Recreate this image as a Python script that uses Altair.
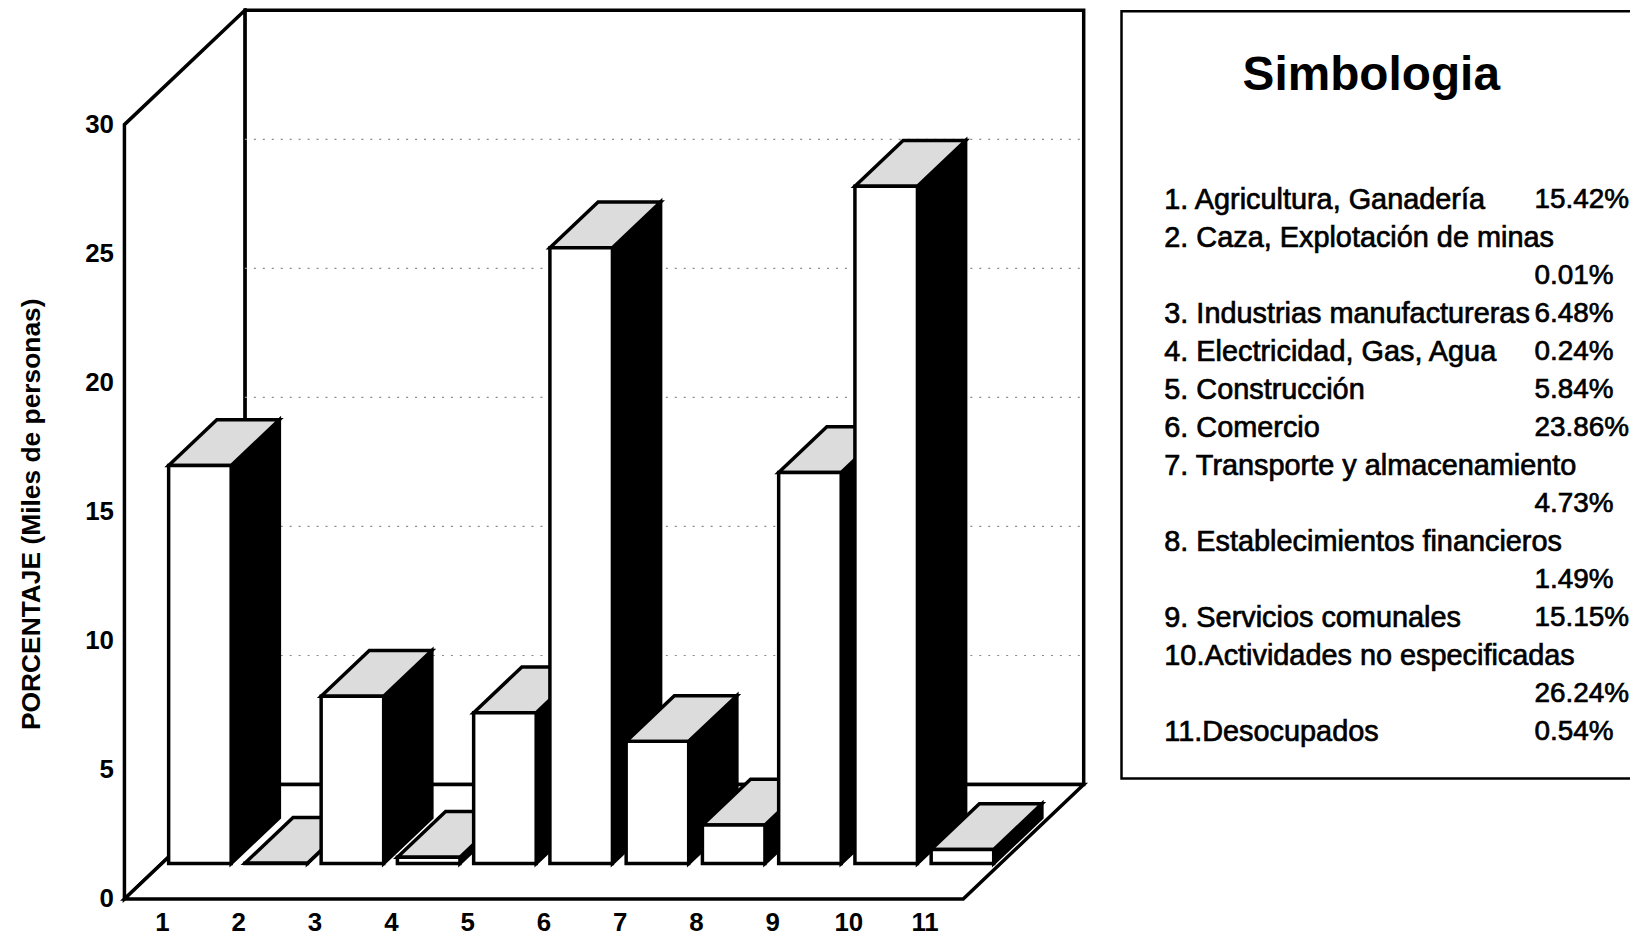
import altair as alt
import pandas as pd

# ---------------- data ----------------
categories = ["1", "2", "3", "4", "5", "6", "7", "8", "9", "10", "11"]
values = [15.42, 0.01, 6.48, 0.24, 5.84, 23.86, 4.73, 1.49, 15.15, 26.24, 0.54]
legend_names = [
    "1. Agricultura, Ganadería",
    "2. Caza, Explotación de minas",
    "3. Industrias manufactureras",
    "4. Electricidad, Gas, Agua",
    "5. Construcción",
    "6. Comercio",
    "7. Transporte y almacenamiento",
    "8. Establecimientos financieros",
    "9. Servicios comunales",
    "10.Actividades no especificadas",
    "11.Desocupados",
]
pct_on_next_line = [False, True, False, False, False, False, True, True, False, True, False]
y_ticks = [0, 5, 10, 15, 20, 25, 30]
legend_title = "Simbologia"
y_title = "PORCENTAJE (Miles de personas)"

# ---------------- oblique 3-D projection settings ----------------
N = len(categories)
YMAX = 30
DX = 1.58      # depth shift expressed in category units
DY = 4.43      # depth shift expressed in value units
Z0, Z1 = 0.31, 0.71   # bar depth range (fraction of floor depth)
PAD = 0.09     # gap on each side of a bar inside its category band
W, H = 964, 893
FONT = "Liberation Sans"

xs = alt.Scale(domain=[0, N + DX], nice=False, zero=False)
ys = alt.Scale(domain=[0, YMAX + DY], nice=False, zero=False)

# walls and floor
back_wall = pd.DataFrame({"x": [DX], "x2": [N + DX], "y": [DY], "y2": [YMAX + DY]})
left_wall = pd.DataFrame({"x": [0, DX], "y": [0, DY], "y2": [YMAX, YMAX + DY], "id": [0, 0]})
floor = pd.DataFrame({"y": [0, DY], "x": [0, DX], "x2": [N, N + DX], "id": [0, 0]})
grid = pd.DataFrame({"y": [t + DY for t in y_ticks[1:-1]]})
grid["x"] = DX
grid["x2"] = N + DX

fronts, tops, sides = [], [], []
for i, h in enumerate(values):
    cl, cr = i + PAD, i + 1 - PAD
    fronts.append({"id": i, "x": cl + Z0 * DX, "x2": cr + Z0 * DX, "y": Z0 * DY, "y2": h + Z0 * DY})
    for z in (Z0, Z1):
        tops.append({"id": i, "y": h + z * DY, "x": cl + z * DX, "x2": cr + z * DX})
        sides.append({"id": i, "x": cr + z * DX, "y": z * DY, "y2": h + z * DY})
fronts = pd.DataFrame(fronts)
tops = pd.DataFrame(tops)
sides = pd.DataFrame(sides)

xlab = pd.DataFrame({"label": categories, "c": [i + 0.5 for i in range(N)], "v": [0] * N})

yaxis = alt.Axis(
    values=y_ticks, title=y_title, grid=False, domain=False, ticks=False, tickSize=0,
    labelFont=FONT, labelFontSize=26, labelFontWeight="bold", labelColor="black",
    labelPadding=11, labelFlush=False, labelOverlap=False,
    titleFont=FONT, titleFontSize=26.5, titleFontWeight="bold", titleColor="black",
    titleAngle=270, titleX=-93, titleY=506, titleAlign="center", titleBaseline="middle",
)

stroke = dict(stroke="black", strokeWidth=3.5, strokeJoin="miter")

back = alt.Chart(back_wall).mark_rect(fill="white", **stroke).encode(
    x=alt.X("x:Q", scale=xs, axis=None), x2="x2:Q",
    y=alt.Y("y:Q", scale=ys, axis=yaxis), y2="y2:Q",
)
left = alt.Chart(left_wall).mark_area(fill="white", orient="vertical", **stroke).encode(
    x=alt.X("x:Q", scale=xs), y=alt.Y("y:Q", scale=ys, stack=False), y2="y2:Q", detail="id:N",
)
flo = alt.Chart(floor).mark_area(fill="white", orient="horizontal", **stroke).encode(
    y=alt.Y("y:Q", scale=ys), x=alt.X("x:Q", scale=xs, stack=False), x2="x2:Q", detail="id:N",
)
gridlines = alt.Chart(grid).mark_rule(color="#8a8a8a", strokeWidth=1.2, strokeDash=[2, 7]).encode(
    x=alt.X("x:Q", scale=xs), x2="x2:Q", y=alt.Y("y:Q", scale=ys),
)
side_l = alt.Chart(sides).mark_area(fill="black", orient="vertical", **stroke).encode(
    x=alt.X("x:Q", scale=xs), y=alt.Y("y:Q", scale=ys, stack=False), y2="y2:Q", detail="id:N",
)
top_l = alt.Chart(tops).mark_area(fill="#dcdcdc", orient="horizontal", **stroke).encode(
    y=alt.Y("y:Q", scale=ys), x=alt.X("x:Q", scale=xs, stack=False), x2="x2:Q", detail="id:N",
)
front_l = alt.Chart(fronts).mark_rect(fill="white", **stroke).encode(
    x=alt.X("x:Q", scale=xs), x2="x2:Q", y=alt.Y("y:Q", scale=ys), y2="y2:Q",
)
xlabels = alt.Chart(xlab).mark_text(
    dy=24, font=FONT, fontSize=26, fontWeight="bold", color="black"
).encode(x=alt.X("c:Q", scale=xs), y=alt.Y("v:Q", scale=ys), text="label:N")

main = alt.layer(back, left, flo, gridlines, side_l, top_l, front_l, xlabels)

# ---------------- legend box ----------------
rows = []
r = 0
for name, val, wrap in zip(legend_names, values, pct_on_next_line):
    rows.append({"text": name, "row": r, "col": "name"})
    if wrap:
        r += 1
    rows.append({"text": f"{val:.2f}%", "row": r, "col": "pct"})
    r += 1
leg = pd.DataFrame(rows)
row_scale = alt.Scale(domain=[0, r - 1], range=[190.5, 190.5 + 38.2 * (r - 1)])

box = alt.Chart(pd.DataFrame({"k": [0]})).mark_rect(fill="white", stroke="black", strokeWidth=2.5).encode(
    x=alt.value(1002), x2=alt.value(1540), y=alt.value(1), y2=alt.value(772)
)
ltitle = alt.Chart(pd.DataFrame({"t": [legend_title]})).mark_text(
    font=FONT, fontSize=48, fontWeight="bold", align="center", baseline="alphabetic", color="black"
).encode(x=alt.value(1253), y=alt.value(80), text="t:N")
names_l = alt.Chart(leg[leg.col == "name"]).mark_text(
    font=FONT, fontSize=29, align="left", baseline="middle", color="black", stroke="black", strokeWidth=0.7
).encode(x=alt.value(1045), y=alt.Y("row:Q", scale=row_scale, axis=None), text="text:N")
pcts_l = alt.Chart(leg[leg.col == "pct"]).mark_text(
    font=FONT, fontSize=28, align="left", baseline="middle", color="black", stroke="black", strokeWidth=0.7
).encode(x=alt.value(1417), y=alt.Y("row:Q", scale=row_scale, axis=None), text="text:N")

legend = alt.layer(box, ltitle, names_l, pcts_l)

chart = alt.layer(main, legend).resolve_scale(y="independent").properties(
    width=W, height=H,
    padding={"left": 117, "top": 0, "right": 549, "bottom": 36},
    autosize=alt.AutoSizeParams(type="none"),
    background="white",
).configure_view(strokeWidth=0)

chart.save("out.html", embed_options={"renderer": "svg", "actions": False})
